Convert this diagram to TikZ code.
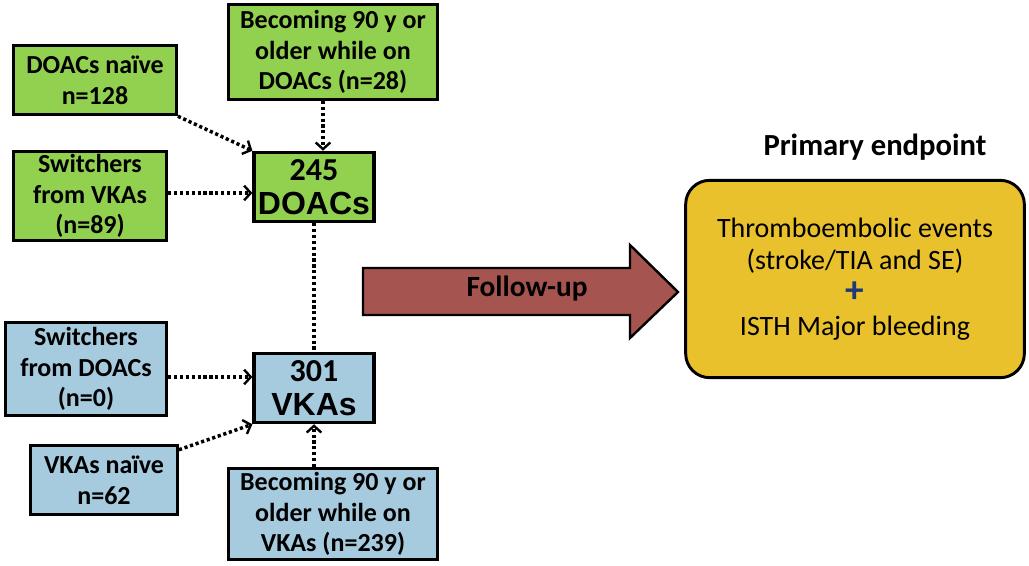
\documentclass[tikz,border=0pt]{standalone}
\usepackage{fontspec}
\setmainfont{Carlito}
\newfontfamily\arialfont{Liberation Sans}
\usetikzlibrary{arrows.meta,calc,positioning}
\definecolor{boxgreen}{RGB}{146,208,80}
\definecolor{boxblue}{RGB}{166,202,222}
\definecolor{fuarrow}{RGB}{166,84,80}
\definecolor{endyellow}{RGB}{233,193,45}
\definecolor{plusblue}{RGB}{31,56,120}
\tikzset{
    -{Straight Barb[length=5pt,width=11pt,line width=1.8pt]},
    x=0.75pt,y=-0.75pt,
    src/.style ={rectangle, draw, line width=2.4pt, align=center, inner sep=0pt,
                 font=\bfseries\fontsize{19.5}{23}\selectfont},
    grn/.style ={src, fill=boxgreen},
    blu/.style ={src, fill=boxblue},
    total/.style={src, minimum width=90pt, minimum height=52pt,
                 font=\bfseries\fontsize{24}{25}\selectfont},
    flow/.style ={line width=2.6pt, dash pattern=on 2.4pt off 2pt}
}

\begin{document}
\begin{tikzpicture}
      \useasboundingbox (0,0) rectangle (1029,565);

      \node[grn,minimum width=122pt,minimum height=52pt] (1) at (95,80) {DOACs naïve\\n=128};
      \node[grn,minimum width=157pt,minimum height=71pt] (2) at (333,52) {Becoming 90 y or\\older while on\\DOACs (n=28)};
      \node[grn,minimum width=115pt,minimum height=67pt] (3) at (90,196) {Switchers\\from VKAs\\(n=89)};
      \node[total,fill=boxgreen] (4) at (314,187) {245\\{\arialfont DOACs}};

      \node[blu,minimum width=121pt,minimum height=70pt] (5) at (86,369) {Switchers\\from DOACs\\(n=0)};
      \node[total,fill=boxblue] (6) at (314,388) {301\\{\arialfont VKAs}};
      \node[blu,minimum width=110pt,minimum height=52pt] (7) at (104,480) {VKAs naïve\\n=62};
      \node[blu,minimum width=157pt,minimum height=68pt] (8) at (333,514) {Becoming 90 y or\\older while on\\VKAs (n=239)};

      \coordinate (in4) at ($(4.north)+(9,0)$);

      \path (1.south east) edge[flow] (4.north west);
      \path (in4 |- 2.south) edge[flow] (in4);
      \path ($(3.east)+(0,-3)$) edge[flow] ($(3.east -| 4.west)+(0,-3)$);
      \path (4.south) edge[flow,-] (6.north);

      \path ($(5.east)+(0,8)$) edge[flow] ($(5.east -| 6.west)+(0,8)$);
      \path ($(7.north east)+(0,6)$) edge[flow] (6.south west);
      \path (8.north -| 6.south) edge[flow] (6.south);

      % follow-up arrow
      \draw[-,fill=fuarrow,line width=1.8pt,line join=miter] (363,268) -- (630,268) -- (630,245) -- (678,292)
            -- (630,338) -- (630,315) -- (363,315) -- cycle;
      \node[font=\bfseries\fontsize{22}{24}\selectfont] (10) at (527,289) {Follow-up};

      \node[draw,line width=2.2pt,rounded corners=18pt,fill=endyellow,minimum width=254pt,minimum height=148pt,
            align=center,font=\fontsize{21}{24.5}\selectfont] (9) at (855,279)
            {Thromboembolic events\\(stroke/TIA and SE)\\{\color{plusblue}\bfseries\fontsize{28}{20}\selectfont +}\\ISTH Major bleeding};
      \node[font=\bfseries\fontsize{23}{24}\selectfont] (11) at (875,147) {Primary endpoint};
\end{tikzpicture}
\end{document}
